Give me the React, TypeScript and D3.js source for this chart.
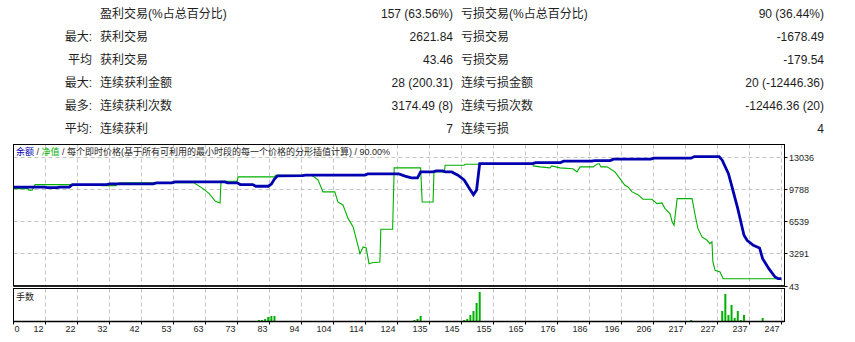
import * as d3 from "d3";

// summary table
const rowPrefix = ["", "最大:", "平均", "最大:", "最多:", "平均:"];
const winLabels = ["盈利交易(%占总百分比)", "获利交易", "获利交易", "连续获利金额", "连续获利次数", "连续获利"];
const winValues = ["157 (63.56%)", "2621.84", "43.46", "28 (200.31)", "3174.49 (8)", "7"];
const lossLabels = ["亏损交易(%占总百分比)", "亏损交易", "亏损交易", "连续亏损金额", "连续亏损次数", "连续亏损"];
const lossValues = ["90 (36.44%)", "-1678.49", "-179.54", "20 (-12446.36)", "-12446.36 (20)", "4"];

// chart axes
const xTickLabels = ["0", "12", "22", "32", "42", "53", "63", "73", "83", "94", "104", "114", "124", "135", "145", "155", "165", "176", "186", "196", "206", "217", "227", "237", "247"];
const yTicks = [43, 3291, 6539, 9788, 13036];

// [trade #, balance]
const balance: [number, number][] = [
  [0, 10000], [10, 10000], [11, 9930], [14, 9930], [15, 10000], [18, 10000], [19, 10244], [30, 10244],
  [31, 10315], [45, 10315], [46, 10420], [51, 10420], [52, 10520], [68, 10520], [69, 10420], [72, 10420],
  [73, 10250], [77, 10250], [78, 10080], [82, 10080], [83, 10300], [84, 10800], [85, 11125], [93, 11150],
  [94, 11195], [113, 11195], [114, 11330], [124, 11330], [126, 11100], [128, 10922], [130, 10922], [131, 11530],
  [135, 11530], [136, 11630], [138, 11630], [139, 11530], [141, 11530], [143, 11195], [145, 10720], [147, 9707],
  [148, 9231], [149, 9707], [150, 12370], [167, 12370], [168, 12470], [176, 12470], [177, 12610], [186, 12610],
  [187, 12672], [192, 12672], [193, 12815], [205, 12815], [206, 12915], [218, 12915], [219, 13078], [227, 13078],
  [228, 12713], [230, 11357], [231, 10183], [232, 8999], [233, 7815], [234, 6469], [235, 5123], [236, 4617],
  [238, 4111], [240, 3838], [241, 2755], [243, 1743], [245, 903], [246, 731], [247, 731],
];

// [trade #, equity]
const equity: [number, number][] = [
  [0, 9840], [4.7, 9840], [5, 9677], [6, 9677], [7, 10244], [28, 10244], [28.5, 10143], [33, 10143],
  [34, 10416], [45, 10416], [46, 10450], [58, 10450], [58.5, 10345], [61, 9839], [63, 9333], [65, 8564],
  [66.5, 8392], [66.8, 10588], [72, 10588], [72.3, 11023], [84, 11023], [84.3, 11195], [96, 11195], [98, 10720],
  [99.6, 9505], [103.4, 9505], [104.4, 8493], [106, 8190], [107.7, 6803], [109.3, 5963], [111.5, 3261], [112.5, 3939],
  [113.5, 3838], [114.4, 2249], [115.4, 2350], [117.9, 2421], [118.2, 5730], [122, 5730], [122.5, 11934], [131, 11934],
  [131.5, 8493], [135, 8493], [135.3, 11530], [138.6, 11530], [138.9, 12207], [145, 12207], [145.3, 12310], [167, 12310],
  [167.3, 12136], [169.4, 12035], [172.6, 11934], [173.2, 12136], [175.8, 11934], [180, 11850], [181.3, 11530], [182.3, 12035],
  [186.5, 12035], [187.7, 12310], [188.4, 12370], [189, 12035], [191, 12035], [193.5, 11530], [195.1, 10852], [196.7, 10183],
  [197.7, 10011], [199, 9505], [200.9, 9231], [202.5, 8767], [205.4, 8767], [207, 8321], [208.6, 8392], [209.6, 7815],
  [211.2, 7309], [211.9, 6469], [212.5, 6135], [213.5, 8827], [218.3, 8827], [219.3, 7147], [220.2, 5791], [221.5, 4951],
  [223.1, 4617], [224, 4273], [224.7, 4445], [225, 2421], [225.7, 1581], [227.3, 1409], [228.3, 731], [247, 731],
];

// [trade #, lots]
const lots: [number, number][] = [
  [79, 0.1], [80, 0.1], [81, 0.2], [82, 0.4], [83, 0.5], [84, 0.5],
  [129, 0.1], [130, 0.2], [131, 0.5],
  [145, 0.1], [146, 0.2], [147, 0.6], [148, 1.0], [149, 1.8], [150, 2.9],
  [218, 0.1],
  [228, 1.0], [229, 2.7], [230, 0.6], [231, 1.6], [232, 0.3], [233, 1.0], [234, 0.1], [235, 0.6],
  [241, 0.3],
];

const W = 855;
const H = 342;
const left = 13.5;
const right = 784.5;
const top = 144.5;
const mainBottom = 286;
const volTop = 288.5;
const volBottom = 321.5;

const BLUE = "#0000b0";
const GREEN = "#00b000";
const GRID = "#c4c4c4";
const TXT = "#1e1e1e";
const font = "Tahoma, 'Liberation Sans', 'Noto Sans CJK SC', sans-serif";

export default function App() {
  const x = d3.scaleLinear().domain([0, 247]).range([13.3, 781.3]);
  const slot = d3.scaleLinear().domain([0, 24]).range([13.3, 781.3]);
  const y = d3.scaleLinear().domain([43, 13036]).range([285.5, 157]);
  const vy = d3.scaleLinear().domain([0, 3.2]).range([321, 289]);

  const line = d3
    .line<[number, number]>()
    .x((d) => x(d[0]))
    .y((d) => y(d[1]));

  const rowY = (i: number) => 17.5 + i * 23;

  return (
    <svg
      width={W}
      height={H}
      style={{ position: "absolute", left: 0, top: 0, background: "#fff" }}
      fontFamily={font}
    >
      {/* summary table */}
      <g fontSize={12} fill={TXT}>
        {rowPrefix.map((t, i) => (
          <text key={"p" + i} x={92} y={rowY(i)} textAnchor="end">{t}</text>
        ))}
        {winLabels.map((t, i) => (
          <text key={"wl" + i} x={100} y={rowY(i)}>{t}</text>
        ))}
        {winValues.map((t, i) => (
          <text key={"wv" + i} x={453} y={rowY(i)} textAnchor="end">{t}</text>
        ))}
        {lossLabels.map((t, i) => (
          <text key={"ll" + i} x={461} y={rowY(i)}>{t}</text>
        ))}
        {lossValues.map((t, i) => (
          <text key={"lv" + i} x={824} y={rowY(i)} textAnchor="end">{t}</text>
        ))}
      </g>

      <defs>
        <clipPath id="plot">
          <rect x={left} y={top} width={right - left} height={mainBottom - top} />
        </clipPath>
      </defs>

      {/* grid */}
      <g stroke={GRID} strokeDasharray="4,3" strokeWidth={1}>
        {xTickLabels.slice(1).map((_, k) => {
          const px = Math.round(slot(k + 1)) + 0.5;
          return (
            <g key={"vg" + k}>
              <line x1={px} x2={px} y1={top} y2={mainBottom} />
              <line x1={px} x2={px} y1={volTop} y2={volBottom} />
            </g>
          );
        })}
        {yTicks.slice(1).map((v) => {
          const py = Math.round(y(v)) + 0.5;
          return <line key={"hg" + v} x1={left} x2={right} y1={py} y2={py} />;
        })}
      </g>

      {/* series */}
      <g clipPath="url(#plot)" fill="none">
        <path d={line(equity) || ""} stroke={GREEN} strokeWidth={1.1} />
        <path d={line(balance) || ""} stroke={BLUE} strokeWidth={2.8} />
      </g>

      {/* lots */}
      <g fill={GREEN}>
        {lots.map(([i, v]) => (
          <rect key={"b" + i} x={x(i) - 1} y={vy(v)} width={2} height={vy(0) - vy(v)} />
        ))}
      </g>

      {/* frames */}
      <g fill="none" stroke="#000">
        <rect x={left} y={top} width={right - left} height={mainBottom - top} strokeWidth={1} />
        <line x1={left} x2={right} y1={mainBottom} y2={mainBottom} strokeWidth={1.5} />
        <rect x={left} y={volTop} width={right - left} height={volBottom - volTop} strokeWidth={1} />
        <line x1={left} x2={right} y1={volBottom} y2={volBottom} strokeWidth={1.5} />
      </g>

      {/* right axis */}
      <g fontSize={9} fill={TXT}>
        {yTicks.map((v) => {
          const py = Math.round(y(v)) + 0.5;
          return (
            <g key={"yt" + v}>
              <line x1={right} x2={right + 3} y1={py} y2={py} stroke="#000" />
              <text x={789} y={py} dy="0.35em">{v}</text>
            </g>
          );
        })}
      </g>

      {/* bottom axis */}
      <g fontSize={9} fill={TXT}>
        {xTickLabels.map((t, k) => {
          const px = Math.round(slot(k)) + 0.5;
          return (
            <g key={"xt" + k}>
              <line x1={px} x2={px} y1={volBottom} y2={volBottom + 3} stroke="#000" />
              <text x={k === 0 ? px + 1 : px - 2} y={332} textAnchor={k === 0 ? "start" : "end"}>{t}</text>
            </g>
          );
        })}
      </g>

      {/* legend */}
      <text x={16} y={155} fontSize={9} fill={TXT}>
        <tspan fill={BLUE}>余额</tspan>
        <tspan> / </tspan>
        <tspan fill={GREEN}>净值</tspan>
        <tspan> / 每个即时价格(基于所有可利用的最小时段的每一个价格的分形插值计算) / 90.00%</tspan>
      </text>
      <text x={16} y={300} fontSize={9} fill={TXT}>手数</text>
    </svg>
  );
}
